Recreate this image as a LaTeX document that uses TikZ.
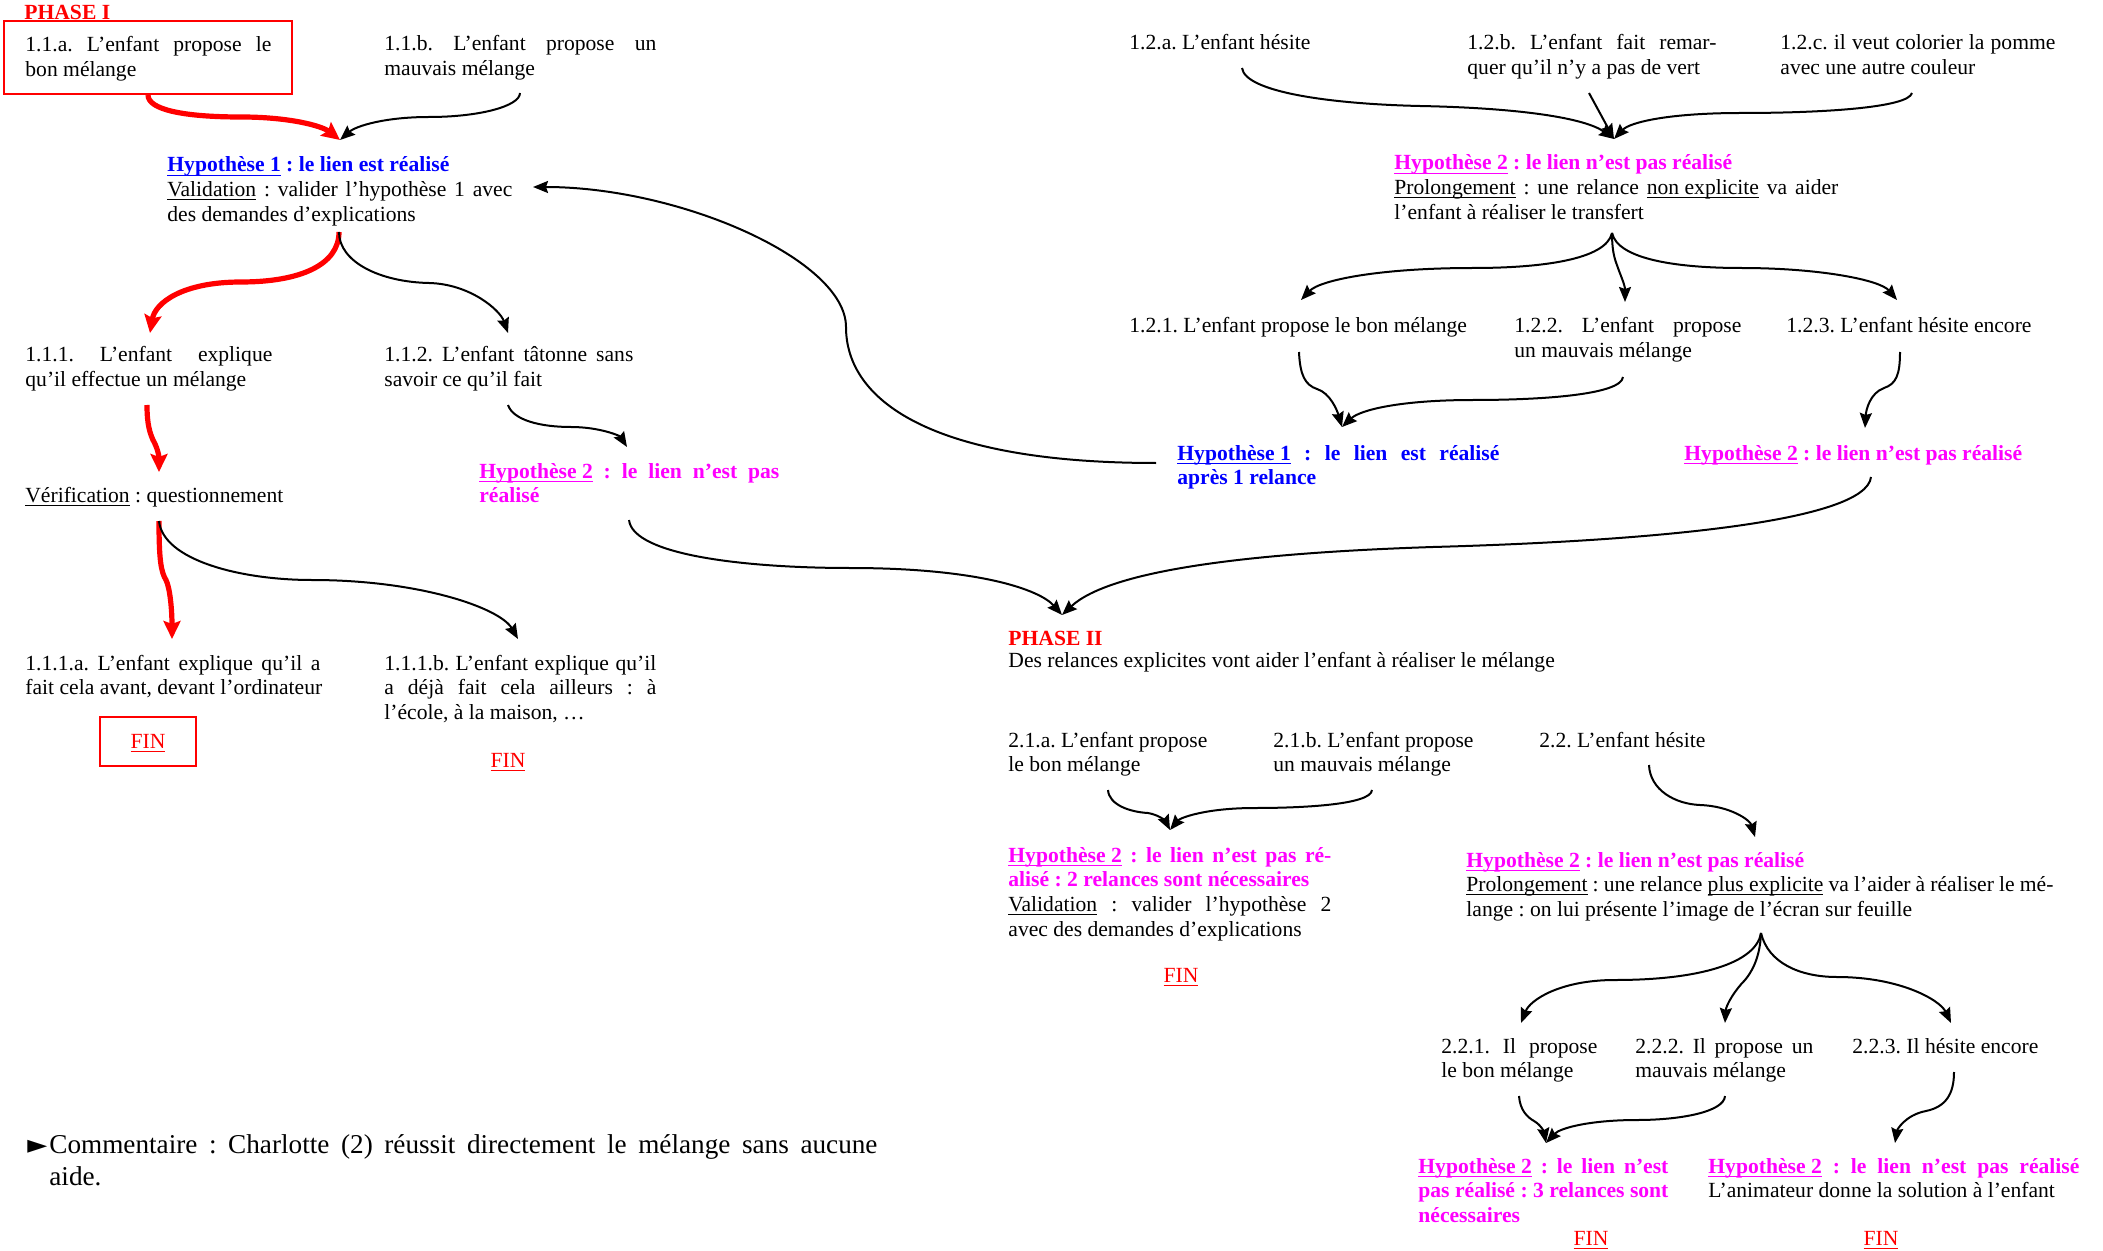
\documentclass[tikz,border=0pt]{standalone}
\usepackage{fontspec}
\setmainfont{Liberation Serif}
\newfontfamily\symfont{DejaVu Sans}
\usetikzlibrary{arrows.meta}
\frenchspacing
\definecolor{myred}{RGB}{255,0,0}
\definecolor{myblue}{RGB}{0,0,255}
\definecolor{mymag}{RGB}{255,0,255}
\newsavebox\myulbox
\newcommand{\myul}[2][0.45pt]{\sbox\myulbox{#2}\rlap{\rule[\dimexpr-1.3pt-#1\relax]{\wd\myulbox}{#1}}\usebox\myulbox}
\newcommand{\uline}[1]{\myul{#1}}
\newcommand{\hyl}[1]{\myul[0.9pt]{#1}}
\newcommand{\jline}[2]{\makebox[#1][s]{\spaceskip=0pt\xspaceskip=0pt\relax #2}}
\newcommand{\myfs}{\fontsize{10.8}{12.4}\selectfont\spaceskip=0pt\xspaceskip=0pt\relax}
\newcommand{\mycfs}{\fontsize{13.6}{16}\selectfont\spaceskip=0pt\xspaceskip=0pt\relax}
\begin{document}
\begin{tikzpicture}[x=0.5pt,y=0.5pt,
  txt/.style={inner sep=0pt, anchor=base west, font=\myfs, align=flush left, text width=300pt},
  fin/.style={inner sep=0pt, anchor=base, font=\myfs, text=myred},
  blk/.style={line width=1pt, -{Stealth[length=7.5pt,width=6pt,inset=1pt]}},
  redarr/.style={draw=myred, line width=2.6pt, -{Stealth[length=9pt,width=8.5pt,inset=1.5pt]}},
  box/.style={draw=myred, line width=1pt, inner sep=0pt}]
\useasboundingbox (0,0) rectangle (2103,-1251);

% ---------- Phase I, left part ----------
\node[box, minimum width=144pt, minimum height=36.5pt] (box11a) at (148,-57.5) {};
\node[txt] (phaseI) at (24,-20) {\bfseries\color{myred}PHASE I};
\node[txt] (n11a) at (25,-52) {\jline{123pt}{1.1.a. L’enfant propose le}\\bon mélange};
\node[txt] (n11b) at (384,-51) {\jline{136pt}{1.1.b. L’enfant propose un}\\mauvais mélange};
\node[txt] (h1) at (167,-172) {{\bfseries\color{myblue}\hyl{Hypothèse 1} : le lien est réalisé}\\\jline{172.5pt}{\uline{Validation} : valider l’hypothèse 1 avec}\\des demandes d’explications};
\node[txt] (n111) at (25,-362) {\jline{123.5pt}{1.1.1. L’enfant explique}\\qu’il effectue un mélange};
\node[txt] (n112) at (384,-362) {\jline{124.5pt}{1.1.2. L’enfant tâtonne sans}\\savoir ce qu’il fait};
\node[txt] (h2a) at (479,-478) {\bfseries\color{mymag}\jline{150pt}{\hyl{Hypothèse 2} : le lien n’est pas}\\réalisé};
\node[txt] (verif) at (25,-502) {\uline{Vérification} : questionnement};
\node[txt] (n111a) at (25,-670) {\jline{147.5pt}{1.1.1.a. L’enfant explique qu’il a}\\fait cela avant, devant l’ordinateur};
\node[txt] (n111b) at (384,-670) {\jline{136pt}{1.1.1.b. L’enfant explique qu’il}\\\jline{136pt}{a déjà fait cela ailleurs : à}\\l’école, à la maison, …};
\node[box, minimum width=48pt, minimum height=24.5pt] (finbox1) at (148,-741.5) {};
\node[fin] (fin1) at (148,-748) {\uline{FIN}};
\node[fin] (fin2) at (508,-767) {\uline{FIN}};

% ---------- Phase I, right part ----------
\node[txt] (n12a) at (1129,-50) {1.2.a. L’enfant hésite};
\node[txt] (n12b) at (1467,-50) {\jline{124.5pt}{1.2.b. L’enfant fait remar-}\\quer qu’il n’y a pas de vert};
\node[txt] (n12c) at (1780,-50) {\jline{137.5pt}{1.2.c. il veut colorier la pomme}\\avec une autre couleur};
\node[txt] (h2b) at (1394,-170) {{\bfseries\color{mymag}\hyl{Hypothèse 2} : le lien n’est pas réalisé}\\\jline{222pt}{\uline{Prolongement} : une relance \uline{non explicite} va aider}\\l’enfant à réaliser le transfert};
\node[txt] (n121) at (1129,-333) {1.2.1. L’enfant propose le bon mélange};
\node[txt] (n122) at (1514,-333) {\jline{113.5pt}{1.2.2. L’enfant propose}\\un mauvais mélange};
\node[txt] (n123) at (1786,-333) {1.2.3. L’enfant hésite encore};
\node[txt] (h1b) at (1177,-460) {\bfseries\color{myblue}\jline{161pt}{\hyl{Hypothèse 1} : le lien est réalisé}\\après 1 relance};
\node[txt] (h2c) at (1684,-460) {\bfseries\color{mymag}\hyl{Hypothèse 2} : le lien n’est pas réalisé};

% ---------- Phase II ----------
\node[txt] (phaseII) at (1008,-645) {{\bfseries\color{myred}PHASE II}\\[-1.4pt]Des relances explicites vont aider l’enfant à réaliser le mélange};
\node[txt] (n21a) at (1008,-747) {2.1.a. L’enfant propose\\le bon mélange};
\node[txt] (n21b) at (1273,-747) {2.1.b. L’enfant propose\\un mauvais mélange};
\node[txt] (n22) at (1539,-747) {2.2. L’enfant hésite};
\node[txt] (h2d) at (1008,-862) {{\bfseries\color{mymag}\jline{161.5pt}{\hyl{Hypothèse 2} : le lien n’est pas ré-}\\alisé : 2 relances sont nécessaires}\\\jline{161.5pt}{\uline{Validation} : valider l’hypothèse 2}\\avec des demandes d’explications};
\node[fin] (fin3) at (1181,-982) {\uline{FIN}};
\node[txt, text width=320pt] (h2e) at (1466,-867) {{\bfseries\color{mymag}\hyl{Hypothèse 2} : le lien n’est pas réalisé}\\\jline{293.5pt}{\uline{Prolongement} : une relance \uline{plus explicite} va l’aider à réaliser le mé-}\\lange : on lui présente l’image de l’écran sur feuille};
\node[txt] (n221) at (1441,-1053) {\jline{78pt}{2.2.1. Il propose}\\le bon mélange};
\node[txt] (n222) at (1635,-1053) {\jline{89pt}{2.2.2. Il propose un}\\mauvais mélange};
\node[txt] (n223) at (1852,-1053) {2.2.3. Il hésite encore};
\node[txt] (h2f) at (1418,-1173) {\bfseries\color{mymag}\jline{125pt}{\hyl{Hypothèse 2} : le lien n’est}\\\jline{125pt}{pas réalisé : 3 relances sont}\\nécessaires};
\node[txt] (h2g) at (1708,-1173) {{\bfseries\color{mymag}\jline{185.5pt}{\hyl{Hypothèse 2} : le lien n’est pas réalisé}}\\L’animateur donne la solution à l’enfant};
\node[fin] (fin4) at (1591,-1245) {\uline{FIN}};
\node[fin] (fin5) at (1881,-1245) {\uline{FIN}};

% ---------- Comment ----------
\node[txt, text width=430pt, font=\mycfs] (comment) at (27,-1153) {\makebox[11pt][l]{\symfont\fontsize{13}{16}\selectfont ►}\jline{414pt}{Commentaire : Charlotte (2) réussit directement le mélange sans aucune}\\\hspace*{11pt}aide.};

% ---------- connector end points ----------
\coordinate (h1in) at (340,-140);
\coordinate (n11bout) at (520,-93);
\coordinate (h1out) at (339,-232);
\coordinate (h1inr) at (533,-187);
\coordinate (n111in) at (150,-333);
\coordinate (n112in) at (508,-333);
\coordinate (n111out) at (147,-405);
\coordinate (verifin) at (159,-472);
\coordinate (n112out) at (508,-405);
\coordinate (h2ain) at (627,-447);
\coordinate (verifout) at (159,-521);
\coordinate (n111ain) at (172,-639);
\coordinate (n111bin) at (518,-639);
\coordinate (h2aout) at (629,-520);
\coordinate (phIIin) at (1062,-615);
\coordinate (h1bout) at (1156,-463);
\coordinate (n12aout) at (1242,-68);
\coordinate (n12bout) at (1589,-93);
\coordinate (n12cout) at (1912,-93);
\coordinate (h2bin) at (1614,-139);
\coordinate (h2bout) at (1612,-233);
\coordinate (n121in) at (1301,-300);
\coordinate (n122in) at (1625,-302);
\coordinate (n123in) at (1897,-300);
\coordinate (n121out) at (1299,-352);
\coordinate (n122out) at (1623,-377);
\coordinate (h1bin) at (1342,-427);
\coordinate (n123out) at (1900,-352);
\coordinate (h2cin) at (1865,-428);
\coordinate (h2cout) at (1871,-477);
\coordinate (n21aout) at (1108,-790);
\coordinate (n21bout) at (1372,-790);
\coordinate (h2din) at (1170,-830);
\coordinate (n22out) at (1649,-765);
\coordinate (h2ein) at (1755,-837);
\coordinate (h2eout) at (1761,-933);
\coordinate (n221in) at (1521,-1023);
\coordinate (n222in) at (1725,-1023);
\coordinate (n223in) at (1951,-1023);
\coordinate (n221out) at (1519,-1096);
\coordinate (n222out) at (1725,-1096);
\coordinate (h2fin) at (1546,-1143);
\coordinate (n223out) at (1954,-1072);
\coordinate (h2gin) at (1895,-1143);

% ---------- connectors ----------
\draw[redarr] (box11a.south) .. controls (148,-110) and (185,-117) .. (241,-117) .. controls (290,-117) and (322,-126) .. (h1in);
\draw[blk] (n11bout) .. controls (520,-106) and (480,-117) .. (429,-117) .. controls (385,-117) and (356,-126) .. (h1in);
\draw[blk] (h1bout) .. controls (930,-463) and (846,-400) .. (846,-327) .. controls (846,-260) and (680,-187) .. (h1inr);
\draw[redarr] (h1out) .. controls (339,-265) and (300,-282) .. (241,-282) .. controls (182,-282) and (155,-303) .. (n111in);
\draw[blk] (h1out) .. controls (339,-262) and (380,-282) .. (429,-283) .. controls (470,-284) and (500,-310) .. (n112in);
\draw[redarr] (n111out) .. controls (147,-425) and (150,-433) .. (153,-440) .. controls (157,-447) and (159,-455) .. (verifin);
\draw[blk] (n112out) .. controls (513,-420) and (540,-427) .. (571,-427) .. controls (600,-427) and (620,-436) .. (h2ain);
\draw[redarr] (verifout) .. controls (159,-560) and (161,-572) .. (166,-580) .. controls (170,-588) and (172,-610) .. (n111ain);
\draw[blk] (verifout) .. controls (163,-560) and (240,-580) .. (312,-580) .. controls (420,-580) and (500,-608) .. (n111bin);
\draw[blk] (h2aout) .. controls (633,-556) and (750,-568) .. (850,-568) .. controls (980,-568) and (1040,-590) .. (phIIin);
\draw[blk] (h2cout) .. controls (1866,-522) and (1650,-541) .. (1433,-547) .. controls (1250,-553) and (1110,-570) .. (phIIin);
\draw[blk] (n12aout) .. controls (1245,-92) and (1330,-104) .. (1420,-106) .. controls (1520,-108) and (1585,-118) .. (h2bin);
\draw[blk] (n12bout) -- (h2bin);
\draw[blk] (n12cout) .. controls (1908,-108) and (1820,-113) .. (1741,-113) .. controls (1670,-113) and (1630,-122) .. (h2bin);
\draw[blk] (h2bout) .. controls (1606,-260) and (1540,-268) .. (1473,-268) .. controls (1380,-268) and (1320,-280) .. (n121in);
\draw[blk] (h2bout) .. controls (1612,-255) and (1616,-262) .. (1618,-268) .. controls (1620,-274) and (1625,-285) .. (n122in);
\draw[blk] (h2bout) .. controls (1618,-260) and (1680,-268) .. (1741,-268) .. controls (1820,-268) and (1880,-280) .. (n123in);
\draw[blk] (n121out) .. controls (1300,-375) and (1305,-385) .. (1317,-389) .. controls (1330,-393) and (1337,-410) .. (h1bin);
\draw[blk] (n122out) .. controls (1621,-395) and (1540,-400) .. (1473,-400) .. controls (1400,-400) and (1360,-410) .. (h1bin);
\draw[blk] (n123out) .. controls (1900,-375) and (1896,-384) .. (1884,-388) .. controls (1870,-393) and (1866,-410) .. (h2cin);
\draw[blk] (n21aout) .. controls (1109,-805) and (1130,-812) .. (1148,-813) .. controls (1160,-815) and (1166,-822) .. (h2din);
\draw[blk] (n21bout) .. controls (1371,-805) and (1300,-808) .. (1255,-808) .. controls (1205,-808) and (1180,-818) .. (h2din);
\draw[blk] (n22out) .. controls (1650,-790) and (1675,-804) .. (1700,-805) .. controls (1730,-806) and (1750,-820) .. (h2ein);
\draw[blk] (h2eout) .. controls (1756,-963) and (1700,-980) .. (1615,-980) .. controls (1560,-980) and (1530,-1000) .. (n221in);
\draw[blk] (h2eout) .. controls (1760,-960) and (1750,-974) .. (1745,-980) .. controls (1735,-990) and (1726,-1005) .. (n222in);
\draw[blk] (h2eout) .. controls (1768,-963) and (1800,-977) .. (1837,-977) .. controls (1900,-977) and (1940,-1000) .. (n223in);
\draw[blk] (n221out) .. controls (1520,-1110) and (1527,-1117) .. (1534,-1121) .. controls (1541,-1125) and (1544,-1132) .. (h2fin);
\draw[blk] (n222out) .. controls (1724,-1112) and (1680,-1120) .. (1637,-1120) .. controls (1590,-1120) and (1560,-1128) .. (h2fin);
\draw[blk] (n223out) .. controls (1954,-1095) and (1945,-1107) .. (1926,-1111) .. controls (1905,-1115) and (1897,-1130) .. (h2gin);
\end{tikzpicture}
\end{document}
